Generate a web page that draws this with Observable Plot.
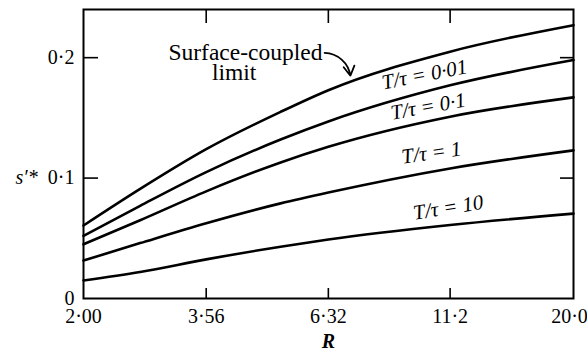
<!DOCTYPE html>
<html><head><meta charset="utf-8">
<script src="https://cdn.jsdelivr.net/npm/d3@7"></script>
<script src="https://cdn.jsdelivr.net/npm/@observablehq/plot@0.6"></script>
<style>body{margin:0;background:#fff}</style>
</head><body><div id="chart"></div>
<script>
// R values (log scale) at which the curves were read
const R = [2.00, 2.61, 3.56, 5.05, 6.32, 11.2, 20.0];
const surfaceCoupled = [0.0606, 0.091, 0.124, 0.155, 0.173, 0.205, 0.227];
const ratio001 = [0.052, 0.077, 0.105, 0.132, 0.147, 0.177, 0.198];
const ratio01  = [0.045, 0.065, 0.089, 0.113, 0.126, 0.151, 0.167];
const ratio1   = [0.0315, 0.046, 0.0625, 0.079, 0.088, 0.108, 0.123];
const ratio10  = [0.015, 0.022, 0.0325, 0.043, 0.049, 0.061, 0.0705];
const seriesNames = ["Surface-coupled limit", "T/τ=0·01", "T/τ=0·1", "T/τ=1", "T/τ=10"];
const seriesValues = [surfaceCoupled, ratio001, ratio01, ratio1, ratio10];

const xTicks = [2.00, 3.56, 6.32, 11.2, 20.0];
const xTickLabels = ["2·00", "3·56", "6·32", "11·2", "20·0"];
const yTicks = [0, 0.1, 0.2];
const yTickLabels = ["0", "0·1", "0·2"];

// curve labels
const labelText = ["T/τ = 0·01", "T/τ = 0·1", "T/τ = 1", "T/τ = 10"];
const labelR = [9.93, 10.1, 10.26, 11.1];
const labelS = [0.186, 0.1595, 0.121, 0.0755];
const labelAngle = [-11, -10, -8, -9];

const rows = [];
seriesNames.forEach((name, i) => R.forEach((r, j) => rows.push({series: name, R: r, s: seriesValues[i][j]})));
const labels = labelText.map((t, i) => ({t, R: labelR[i], s: labelS[i], a: labelAngle[i]}));
const xLab = xTicks.map((v, i) => ({v, t: xTickLabels[i]}));

const W = 587, H = 354, mL = 83, mR = 14, mT = 9, mB = 56;
const pw = W - mL - mR, ph = H - mT - mB;
const font = "Liberation Serif, Times New Roman, serif";
const nearest = (arr, d) => arr.reduce((best, v, i) => Math.abs(v - d) < Math.abs(arr[best] - d) ? i : best, 0);
const fmtY = (d) => yTickLabels[nearest(yTicks, d)];

const chart = Plot.plot({
  width: W, height: H,
  marginLeft: mL, marginRight: mR, marginTop: mT, marginBottom: mB,
  style: {fontFamily: font, fontSize: "20px", background: "#fff", color: "#000"},
  x: {type: "log", domain: [2, 20], axis: null},
  y: {domain: [0, 0.24]},
  marks: [
    // x tick labels (drawn as text so the log scale does not thin them)
    Plot.text(xLab.slice(0, -1), {x: "v", text: "t", frameAnchor: "bottom", lineAnchor: "top", dy: 10, fontSize: 20, fill: "#000"}),
    Plot.text(xLab.slice(-1), {x: "v", text: "t", frameAnchor: "bottom", lineAnchor: "top", dy: 10, dx: -4, fontSize: 20, fill: "#000"}),
    Plot.axisY(yTicks, {tickSize: 0, tickPadding: 9, tickFormat: fmtY, label: null, fontSize: 20}),
    // inward ticks
    Plot.tickX(xTicks.slice(1, -1), {x: d => d, insetTop: ph - 10, stroke: "#000", strokeWidth: 1.6}),
    Plot.tickX(xTicks.slice(1, -1), {x: d => d, insetBottom: ph - 14, stroke: "#000", strokeWidth: 1.6}),
    Plot.tickY(yTicks.slice(1), {y: d => d, insetRight: pw - 15, stroke: "#000", strokeWidth: 1.6}),
    Plot.tickY(yTicks.slice(1), {y: d => d, insetLeft: pw - 13, stroke: "#000", strokeWidth: 1.6}),
    Plot.frame({stroke: "#000", strokeWidth: 2}),
    Plot.line(rows, {x: "R", y: "s", z: "series", curve: "monotone-x", stroke: "#000", strokeWidth: 2.6}),
    Plot.text(labels, {x: "R", y: "s", text: "t", rotate: "a", fontSize: 21, fontStyle: "italic", fill: "#000"}),
    Plot.text(["Surface-coupled"], {x: 4.28, y: 0.204, text: d => d, fontSize: 23.5, fill: "#000"}),
    Plot.text(["limit"], {x: 4.06, y: 0.1876, text: d => d, fontSize: 23.5, fill: "#000"}),
    Plot.arrow([0], {x1: 6.21, y1: 0.204, x2: 7.01, y2: 0.185, bend: 40, headLength: 9, stroke: "#000", strokeWidth: 1.8}),
    Plot.text(["R"], {x: 6.32, frameAnchor: "bottom", dy: 49, text: d => d, fontSize: 20, fontStyle: "italic", fontWeight: "bold", fill: "#000"}),
    Plot.text(["s′*"], {y: 0.1, frameAnchor: "left", dx: -68, text: d => d, fontSize: 20, fontStyle: "italic", fill: "#000"})
  ]
});
document.getElementById("chart").append(chart);
</script>
</body></html>
